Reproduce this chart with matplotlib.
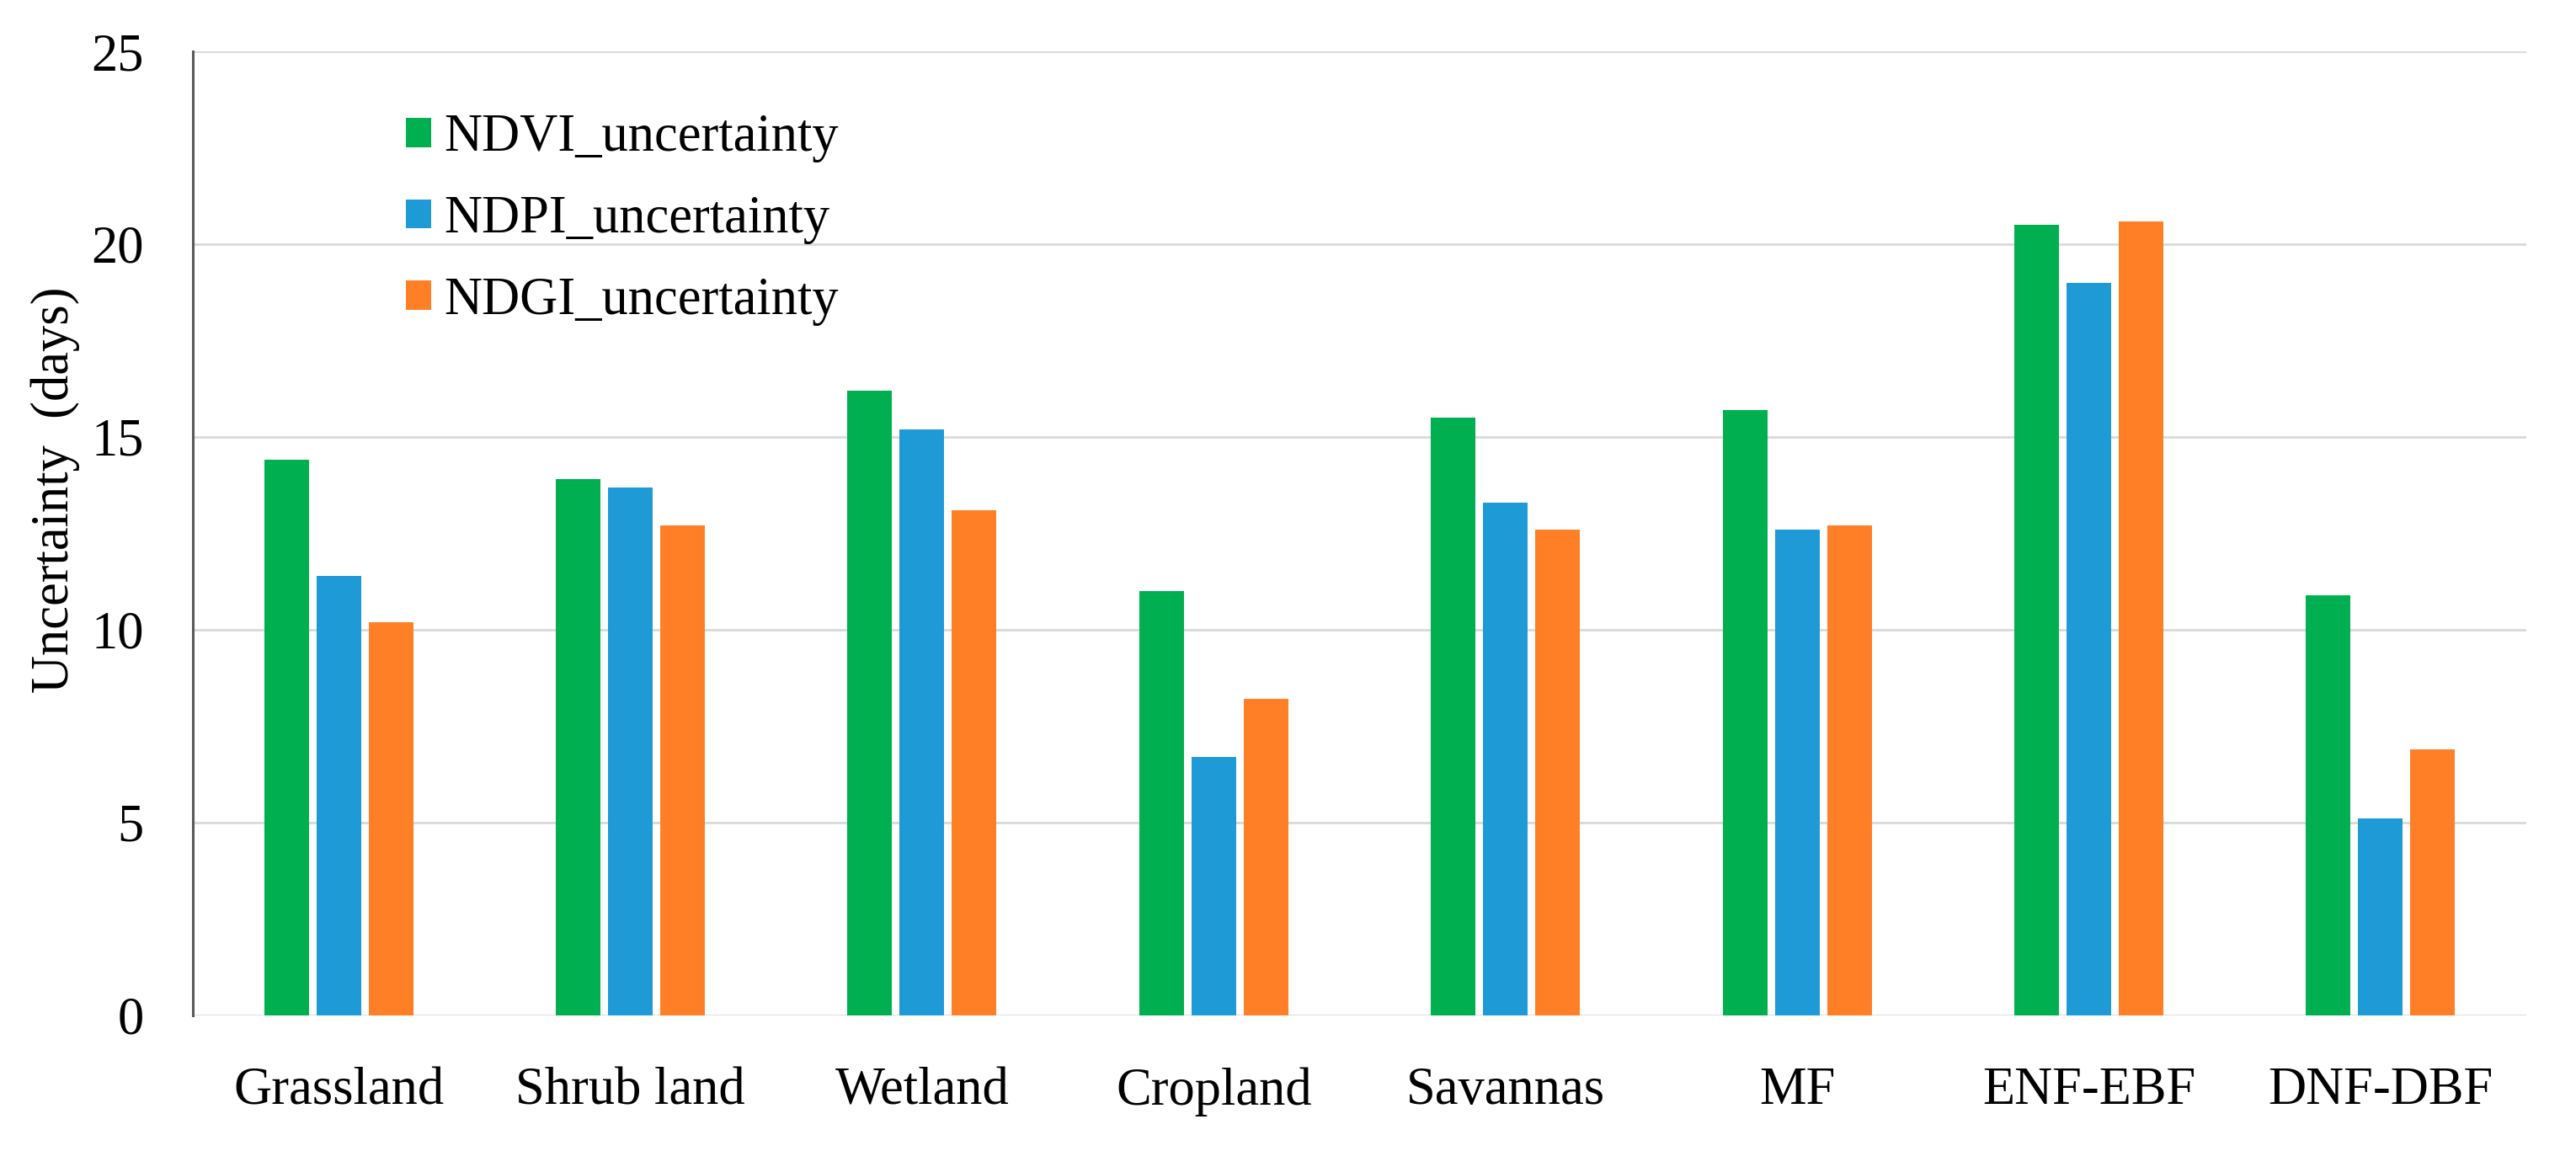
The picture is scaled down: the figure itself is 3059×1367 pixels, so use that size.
import matplotlib
matplotlib.use("Agg")
import matplotlib.pyplot as plt
import numpy as np

categories = ["Grassland", "Shrub land", "Wetland", "Cropland", "Savannas", "MF", "ENF-EBF", "DNF-DBF"]
ndvi_unc = [14.4, 13.9, 16.2, 11.0, 15.5, 15.7, 20.5, 10.9]
ndpi_unc = [11.4, 13.7, 15.2, 6.7, 13.3, 12.6, 19.0, 5.1]
ndgi_unc = [10.2, 12.7, 13.1, 8.2, 12.6, 12.7, 20.6, 6.9]
series_names = ["NDVI_uncertainty", "NDPI_uncertainty", "NDGI_uncertainty"]
series_colors = ["#00B050", "#1E9BD7", "#FF7F27"]
y_ticks = [0, 5, 10, 15, 20, 25]

plt.rcParams['font.family'] = ['Liberation Serif', 'DejaVu Serif']
FS = 45

W, H = 3059, 1367
fig = plt.figure(figsize=(W / 100, H / 100), dpi=100)
ax_left, ax_right = 229 / W, 3000 / W
ax_bottom, ax_top = 1 - 1206 / H, 1 - 61 / H
ax = fig.add_axes([ax_left, ax_bottom, ax_right - ax_left, ax_top - ax_bottom])

x = np.arange(len(categories))
pitch = 0.179
bw = 0.153
for i, (vals, name, col) in enumerate(zip([ndvi_unc, ndpi_unc, ndgi_unc], series_names, series_colors)):
    ax.bar(x + (i - 1) * pitch, vals, width=bw, color=col, label=name, zorder=3)

ax.set_xlim(-0.5, len(categories) - 0.5)
ax.set_ylim(0, 25)
ax.set_yticks(y_ticks)
ax.set_yticklabels([str(t) for t in y_ticks], fontsize=FS)
ax.set_xticks(x)
ax.set_xticklabels(categories, fontsize=FS)
ax.tick_params(axis='y', length=0, pad=42)
ax.tick_params(axis='x', length=0, pad=44)

ax.grid(axis='y', color='#D9D9D9', linewidth=2.0, zorder=0)
ax.set_axisbelow(True)
for s in ['top', 'right', 'bottom']:
    ax.spines[s].set_visible(False)
ax.spines['left'].set_color('#595959')
ax.spines['left'].set_linewidth(2.2)

ax.set_ylabel("Uncertainty  (days)", fontsize=FS)
ax.yaxis.set_label_coords(-0.0484, 0.545)

leg = ax.legend(loc='upper left', bbox_to_anchor=(0.0913, 0.935), frameon=False,
                fontsize=FS, handlelength=0.48, handleheight=0.48, handletextpad=0.25,
                labelspacing=0.62, borderpad=0, borderaxespad=0)

fig.savefig("out.png", dpi=100)
